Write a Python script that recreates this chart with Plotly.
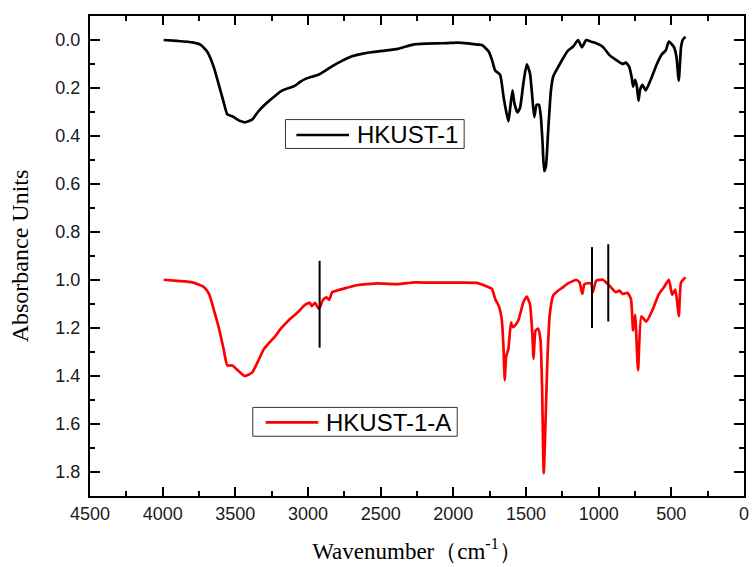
import plotly.graph_objects as go

# ---- data ----
wn_hkust = [3993, 3900, 3795, 3738, 3692, 3650, 3612, 3580, 3555, 3521, 3476, 3435, 3385, 3345,
            3305, 3265, 3225, 3190, 3157, 3120, 3089, 3055, 3021, 2975, 2929, 2880, 2838, 2770,
            2702, 2630, 2565, 2470, 2383, 2320, 2269, 2190, 2110, 2040, 1973, 1900, 1837, 1803,
            1757, 1734, 1712, 1678, 1655, 1639, 1621, 1610, 1593, 1580, 1559, 1541, 1518, 1495,
            1473, 1457, 1443, 1427, 1411, 1398, 1386, 1375, 1363, 1347, 1329, 1313, 1279, 1245,
            1211, 1177, 1142, 1115, 1086, 1052, 1017, 972, 927, 881, 835, 813, 790, 772, 763,
            749, 737, 726, 715, 699, 676, 642, 597, 563, 539, 517, 483, 465, 449, 433, 422, 403]
abs_hkust = [0.0, 0.004, 0.01, 0.02, 0.05, 0.11, 0.19, 0.26, 0.31, 0.318, 0.335, 0.343, 0.332, 0.30,
             0.274, 0.252, 0.232, 0.215, 0.205, 0.198, 0.19, 0.175, 0.163, 0.153, 0.145, 0.128, 0.111, 0.088,
             0.069, 0.058, 0.051, 0.044, 0.037, 0.026, 0.018, 0.015, 0.014, 0.013, 0.011, 0.014, 0.019, 0.021,
             0.048, 0.083, 0.127, 0.145, 0.235, 0.29, 0.339, 0.29, 0.21, 0.263, 0.302, 0.283, 0.18, 0.101,
             0.138, 0.235, 0.321, 0.27, 0.27, 0.318, 0.429, 0.546, 0.526, 0.373, 0.214, 0.152, 0.113, 0.076,
             0.044, 0.028, 0.0, 0.03, 0.0, 0.007, 0.014, 0.028, 0.062, 0.083, 0.1, 0.094, 0.111, 0.159, 0.194,
             0.166, 0.194, 0.253, 0.207, 0.187, 0.21, 0.166, 0.097, 0.058, 0.044, 0.007, 0.028, 0.069, 0.169,
             0.028, 0.0, -0.014]

wn_hkust_a = [3993, 3900, 3795, 3715, 3681, 3650, 3612, 3580, 3555, 3521, 3476, 3435, 3385, 3345,
              3305, 3265, 3225, 3190, 3157, 3120, 3089, 3055, 3021, 2987, 2975, 2952, 2925, 2896, 2873,
              2854, 2834, 2790, 2747, 2700, 2656, 2590, 2520, 2450, 2383, 2320, 2269, 2150, 2050, 1950,
              1837, 1803, 1757, 1734, 1712, 1684, 1666, 1655, 1646, 1637, 1621, 1603, 1591, 1576, 1553,
              1518, 1495, 1473, 1457, 1448, 1434, 1416, 1400, 1389, 1378, 1366, 1352, 1336, 1313, 1284,
              1245, 1211, 1154, 1131, 1113, 1097, 1052, 1040, 1017, 972, 927, 881, 858, 835, 801, 778,
              763, 749, 729, 706, 672, 631, 585, 551, 517, 494, 472, 449, 433, 403]
abs_hkust_a = [0.999, 1.004, 1.01, 1.03, 1.058, 1.12, 1.203, 1.29, 1.356, 1.356, 1.38, 1.40, 1.386, 1.34,
               1.289, 1.26, 1.234, 1.205, 1.183, 1.16, 1.145, 1.125, 1.104, 1.095, 1.109, 1.095, 1.12, 1.082,
               1.072, 1.082, 1.051, 1.042, 1.035, 1.027, 1.021, 1.017, 1.014, 1.016, 1.017, 1.013, 1.01, 1.011,
               1.011, 1.011, 1.012, 1.019, 1.03, 1.037, 1.079, 1.114, 1.169, 1.279, 1.418, 1.321, 1.286, 1.176,
               1.196, 1.19, 1.169, 1.093, 1.069, 1.1, 1.217, 1.328, 1.21, 1.203, 1.252, 1.459, 1.805, 1.598,
               1.321, 1.141, 1.065, 1.047, 1.03, 1.014, 1.0, 1.01, 1.058, 1.017, 1.014, 1.051, 1.003, 0.999,
               1.023, 1.051, 1.044, 1.058, 1.054, 1.079, 1.21, 1.145, 1.376, 1.151, 1.173, 1.127, 1.058, 1.03,
               0.999, 1.062, 1.04, 1.151, 1.01, 0.989]

series_names = ["HKUST-1", "HKUST-1-A"]
series_colors = ["black", "#ff0000"]

# vertical marker lines (wavenumber, top, bottom)
mark_wn = [2920, 1046, 934]
mark_top = [0.92, 0.863, 0.851]
mark_bot = [1.282, 1.20, 1.173]

x_ticks = [4500, 4000, 3500, 3000, 2500, 2000, 1500, 1000, 500, 0]
y_ticks = [0.0, 0.2, 0.4, 0.6, 0.8, 1.0, 1.2, 1.4, 1.6, 1.8]

fig = go.Figure()
for xs, ys, nm, col in zip([wn_hkust, wn_hkust_a], [abs_hkust, abs_hkust_a], series_names, series_colors):
    fig.add_trace(go.Scatter(x=xs, y=ys, mode="lines", name=nm, showlegend=False,
                             line=dict(color=col, width=2.7, shape="spline", smoothing=0.5)))

mx, my = [], []
for w, t, b in zip(mark_wn, mark_top, mark_bot):
    mx += [w, w, None]
    my += [t, b, None]
fig.add_trace(go.Scatter(x=mx, y=my, mode="lines", showlegend=False,
                         line=dict(color="black", width=2)))

# ---- hand-drawn legend boxes (paper coordinates) ----
# each: box x0, x1, y0, y1, line x0, x1, y, text x
leg_boxes = [
    (0.2989, 0.5721, 0.7241, 0.7842, 0.3156, 0.3961, 0.7521, 0.4067),
    (0.2489, 0.5615, 0.1245, 0.1846, 0.2686, 0.3490, 0.1535, 0.3596),
]
legfont = dict(family="Liberation Sans, Arial", size=24, color="black")
for (bx0, bx1, by0, by1, lx0, lx1, ly, tx), nm, col in zip(leg_boxes, series_names, series_colors):
    fig.add_shape(type="rect", xref="paper", yref="paper", x0=bx0, x1=bx1, y0=by0, y1=by1,
                  line=dict(color="#333333", width=1), fillcolor="white", layer="above")
    fig.add_shape(type="line", xref="paper", yref="paper", x0=lx0, x1=lx1, y0=ly, y1=ly,
                  line=dict(color=col, width=2.7), layer="above")
    fig.add_annotation(xref="paper", yref="paper", x=tx, y=ly, text=nm, showarrow=False,
                       xanchor="left", yanchor="middle", font=legfont, borderpad=0)

tickfont = dict(family="Liberation Sans, Arial", size=18, color="#1a1a1a")
fig.update_xaxes(range=[4500, 0], tickvals=x_ticks, ticktext=[str(v) for v in x_ticks],
                 ticks="inside", ticklen=9, tickwidth=1.5, tickcolor="black",
                 minor=dict(ticks="inside", ticklen=5, tickwidth=1.5, tickcolor="black", dtick=250),
                 showline=True, linewidth=2, linecolor="black", mirror="ticks",
                 showgrid=False, zeroline=False, tickfont=tickfont,
                 title=dict(text="Wavenumber（cm<sup>-1</sup>）",
                            font=dict(family="Liberation Serif, Times New Roman", size=23, color="black"),
                            standoff=20))
fig.update_yaxes(range=[1.9, -0.1], tickvals=y_ticks, ticktext=[f"{v:.1f}" for v in y_ticks],
                 ticks="inside", ticklen=10, tickwidth=1.5, tickcolor="black",
                 minor=dict(ticks="inside", ticklen=5, tickwidth=1.5, tickcolor="black",
                            tickvals=[0.1, 0.3, 0.5, 0.7, 0.9, 1.1, 1.3, 1.5, 1.7]),
                 showline=True, linewidth=2, linecolor="black", mirror="ticks",
                 showgrid=False, zeroline=False, tickfont=tickfont, ticklabelstandoff=4,
                 title=dict(text="Absorbance Units",
                            font=dict(family="Liberation Serif, Times New Roman", size=24, color="black"),
                            standoff=20))

fig.update_layout(
    width=756, height=567,
    margin=dict(l=90, r=7, t=16, b=69),
    paper_bgcolor="white", plot_bgcolor="white",
    showlegend=False,
)

fig.write_html("out.html")
